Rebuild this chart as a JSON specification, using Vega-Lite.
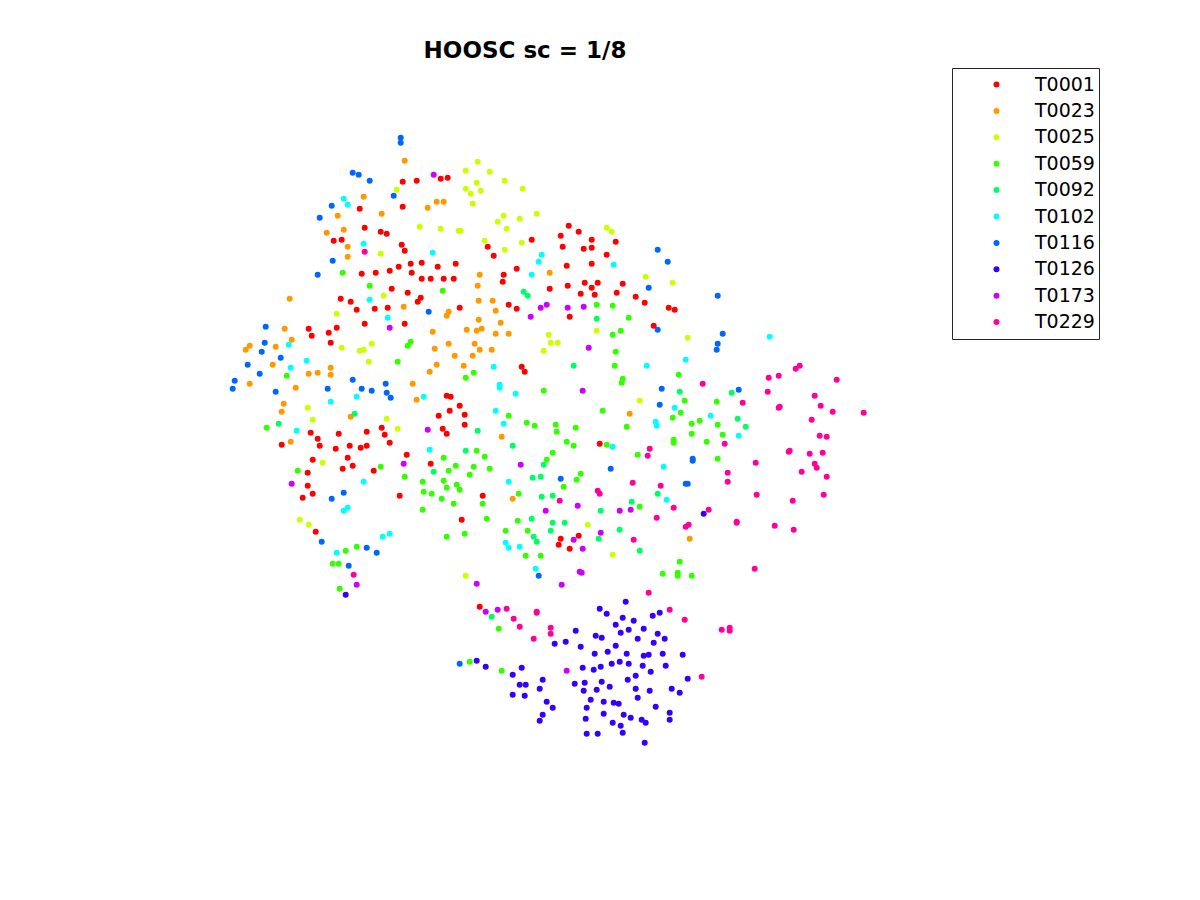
{"$schema":"https://vega.github.io/schema/vega-lite/v6.json","width":1200,"height":900,"padding":0,"autosize":{"type":"none"},"background":"white","view":{"stroke":null},
"title":{"text":"HOOSC sc = 1/8","font":"DejaVu Sans","fontSize":23,"fontWeight":"bold","color":"#000000","anchor":"middle","dx":-75,"offset":-81,"baseline":"alphabetic"},
"datasets":{"pts":[
{"t":"T0001","x":402,"y":181},{"t":"T0001","x":416,"y":180},{"t":"T0001","x":440,"y":178},{"t":"T0001","x":447,"y":177},{"t":"T0001","x":359,"y":208},{"t":"T0001","x":402,"y":206},{"t":"T0001","x":364,"y":227},{"t":"T0001","x":380,"y":231},{"t":"T0001","x":386,"y":233},{"t":"T0001","x":333,"y":240},{"t":"T0001","x":341,"y":239},{"t":"T0001","x":401,"y":244},{"t":"T0001","x":404,"y":250},{"t":"T0001","x":531,"y":239},{"t":"T0001","x":487,"y":246},{"t":"T0001","x":493,"y":255},{"t":"T0001","x":410,"y":263},{"t":"T0001","x":421,"y":262},{"t":"T0001","x":437,"y":266},{"t":"T0001","x":455,"y":263},{"t":"T0001","x":398,"y":266},{"t":"T0001","x":389,"y":270},{"t":"T0001","x":375,"y":272},{"t":"T0001","x":361,"y":273},{"t":"T0001","x":411,"y":272},{"t":"T0001","x":421,"y":278},{"t":"T0001","x":430,"y":278},{"t":"T0001","x":443,"y":278},{"t":"T0001","x":453,"y":278},{"t":"T0001","x":516,"y":268},{"t":"T0001","x":503,"y":274},{"t":"T0001","x":502,"y":281},{"t":"T0001","x":549,"y":288},{"t":"T0001","x":391,"y":288},{"t":"T0001","x":407,"y":292},{"t":"T0001","x":420,"y":297},{"t":"T0001","x":417,"y":301},{"t":"T0001","x":340,"y":298},{"t":"T0001","x":350,"y":301},{"t":"T0001","x":356,"y":309},{"t":"T0001","x":374,"y":308},{"t":"T0001","x":387,"y":307},{"t":"T0001","x":459,"y":307},{"t":"T0001","x":508,"y":304},{"t":"T0001","x":516,"y":308},{"t":"T0001","x":364,"y":323},{"t":"T0001","x":404,"y":323},{"t":"T0001","x":308,"y":328},{"t":"T0001","x":311,"y":335},{"t":"T0001","x":328,"y":332},{"t":"T0001","x":336,"y":327},{"t":"T0001","x":330,"y":342},{"t":"T0001","x":521,"y":366},{"t":"T0001","x":524,"y":371},
{"t":"T0001","x":446,"y":395},{"t":"T0001","x":450,"y":396},{"t":"T0001","x":459,"y":405},{"t":"T0001","x":449,"y":410},{"t":"T0001","x":438,"y":415},{"t":"T0001","x":464,"y":414},{"t":"T0001","x":464,"y":424},{"t":"T0001","x":442,"y":428},{"t":"T0001","x":446,"y":433},{"t":"T0001","x":310,"y":432},{"t":"T0001","x":317,"y":438},{"t":"T0001","x":319,"y":445},{"t":"T0001","x":338,"y":433},{"t":"T0001","x":366,"y":431},{"t":"T0001","x":381,"y":427},{"t":"T0001","x":384,"y":434},{"t":"T0001","x":389,"y":442},{"t":"T0001","x":281,"y":444},{"t":"T0001","x":335,"y":448},{"t":"T0001","x":349,"y":445},{"t":"T0001","x":360,"y":447},{"t":"T0001","x":366,"y":445},{"t":"T0001","x":406,"y":454},{"t":"T0001","x":312,"y":459},{"t":"T0001","x":347,"y":457},{"t":"T0001","x":352,"y":465},{"t":"T0001","x":342,"y":468},{"t":"T0001","x":373,"y":470},{"t":"T0001","x":307,"y":472},{"t":"T0001","x":430,"y":463},{"t":"T0001","x":307,"y":485},{"t":"T0001","x":312,"y":493},{"t":"T0001","x":302,"y":497},{"t":"T0001","x":399,"y":495},{"t":"T0001","x":482,"y":495},{"t":"T0001","x":461,"y":519},{"t":"T0001","x":315,"y":531},
{"t":"T0001","x":568,"y":225},{"t":"T0001","x":578,"y":231},{"t":"T0001","x":560,"y":235},{"t":"T0001","x":591,"y":239},{"t":"T0001","x":615,"y":241},{"t":"T0001","x":562,"y":246},{"t":"T0001","x":583,"y":248},{"t":"T0001","x":591,"y":247},{"t":"T0001","x":606,"y":254},{"t":"T0001","x":591,"y":263},{"t":"T0001","x":566,"y":265},{"t":"T0001","x":584,"y":282},{"t":"T0001","x":597,"y":282},{"t":"T0001","x":567,"y":285},{"t":"T0001","x":591,"y":287},{"t":"T0001","x":580,"y":293},{"t":"T0001","x":594,"y":294},{"t":"T0001","x":616,"y":292},{"t":"T0001","x":622,"y":283},{"t":"T0001","x":635,"y":296},{"t":"T0001","x":644,"y":302},{"t":"T0001","x":668,"y":307},{"t":"T0001","x":674,"y":309},{"t":"T0001","x":569,"y":316},{"t":"T0001","x":653,"y":325},{"t":"T0001","x":599,"y":443},{"t":"T0001","x":560,"y":538},{"t":"T0001","x":578,"y":535},{"t":"T0001","x":558,"y":544},{"t":"T0001","x":569,"y":548},{"t":"T0001","x":479,"y":606},
{"t":"T0023","x":404,"y":160},{"t":"T0023","x":363,"y":196},{"t":"T0023","x":436,"y":201},{"t":"T0023","x":443,"y":201},{"t":"T0023","x":427,"y":207},{"t":"T0023","x":337,"y":215},{"t":"T0023","x":381,"y":213},{"t":"T0023","x":343,"y":229},{"t":"T0023","x":326,"y":232},{"t":"T0023","x":347,"y":246},{"t":"T0023","x":347,"y":256},{"t":"T0023","x":479,"y":274},{"t":"T0023","x":477,"y":285},{"t":"T0023","x":549,"y":272},{"t":"T0023","x":289,"y":298},{"t":"T0023","x":478,"y":300},{"t":"T0023","x":492,"y":300},{"t":"T0023","x":403,"y":306},{"t":"T0023","x":495,"y":310},{"t":"T0023","x":448,"y":311},{"t":"T0023","x":446,"y":315},{"t":"T0023","x":478,"y":319},{"t":"T0023","x":500,"y":322},{"t":"T0023","x":284,"y":328},{"t":"T0023","x":466,"y":329},{"t":"T0023","x":476,"y":330},{"t":"T0023","x":481,"y":328},{"t":"T0023","x":495,"y":333},{"t":"T0023","x":508,"y":333},{"t":"T0023","x":432,"y":331},{"t":"T0023","x":291,"y":339},{"t":"T0023","x":249,"y":345},{"t":"T0023","x":245,"y":349},{"t":"T0023","x":275,"y":346},{"t":"T0023","x":448,"y":343},{"t":"T0023","x":474,"y":343},{"t":"T0023","x":434,"y":348},{"t":"T0023","x":479,"y":349},{"t":"T0023","x":491,"y":349},{"t":"T0023","x":454,"y":355},{"t":"T0023","x":472,"y":355},{"t":"T0023","x":272,"y":364},{"t":"T0023","x":330,"y":367},{"t":"T0023","x":436,"y":364},{"t":"T0023","x":463,"y":365},{"t":"T0023","x":429,"y":371},{"t":"T0023","x":330,"y":374},{"t":"T0023","x":308,"y":373},{"t":"T0023","x":317,"y":372},{"t":"T0023","x":249,"y":383},{"t":"T0023","x":295,"y":387},{"t":"T0023","x":412,"y":383},{"t":"T0023","x":416,"y":399},{"t":"T0023","x":283,"y":403},{"t":"T0023","x":281,"y":411},{"t":"T0023","x":350,"y":416},{"t":"T0023","x":290,"y":441},{"t":"T0023","x":501,"y":436},{"t":"T0023","x":512,"y":498},{"t":"T0023","x":629,"y":413},{"t":"T0023","x":689,"y":538},
{"t":"T0025","x":477,"y":161},{"t":"T0025","x":465,"y":170},{"t":"T0025","x":489,"y":171},{"t":"T0025","x":504,"y":180},{"t":"T0025","x":476,"y":182},{"t":"T0025","x":465,"y":188},{"t":"T0025","x":470,"y":193},{"t":"T0025","x":480,"y":190},{"t":"T0025","x":522,"y":188},{"t":"T0025","x":396,"y":189},{"t":"T0025","x":472,"y":203},{"t":"T0025","x":503,"y":215},{"t":"T0025","x":497,"y":221},{"t":"T0025","x":519,"y":218},{"t":"T0025","x":536,"y":213},{"t":"T0025","x":506,"y":228},{"t":"T0025","x":419,"y":226},{"t":"T0025","x":440,"y":228},{"t":"T0025","x":458,"y":230},{"t":"T0025","x":460,"y":230},{"t":"T0025","x":484,"y":240},{"t":"T0025","x":521,"y":242},{"t":"T0025","x":504,"y":249},{"t":"T0025","x":380,"y":253},{"t":"T0025","x":383,"y":295},{"t":"T0025","x":336,"y":313},{"t":"T0025","x":341,"y":347},{"t":"T0025","x":359,"y":350},{"t":"T0025","x":363,"y":349},{"t":"T0025","x":371,"y":343},{"t":"T0025","x":368,"y":361},{"t":"T0025","x":548,"y":334},{"t":"T0025","x":550,"y":342},{"t":"T0025","x":557,"y":342},{"t":"T0025","x":543,"y":350},{"t":"T0025","x":307,"y":407},{"t":"T0025","x":312,"y":419},{"t":"T0025","x":386,"y":418},{"t":"T0025","x":397,"y":428},{"t":"T0025","x":322,"y":462},{"t":"T0025","x":299,"y":519},{"t":"T0025","x":308,"y":524},{"t":"T0025","x":465,"y":575},{"t":"T0025","x":606,"y":227},{"t":"T0025","x":611,"y":231},{"t":"T0025","x":645,"y":276},{"t":"T0025","x":672,"y":282},{"t":"T0025","x":596,"y":330},{"t":"T0025","x":687,"y":337},{"t":"T0025","x":639,"y":400},{"t":"T0025","x":587,"y":524},{"t":"T0025","x":612,"y":554},
{"t":"T0059","x":342,"y":272},{"t":"T0059","x":369,"y":285},{"t":"T0059","x":442,"y":290},{"t":"T0059","x":410,"y":341},{"t":"T0059","x":407,"y":345},{"t":"T0059","x":397,"y":361},{"t":"T0059","x":286,"y":375},{"t":"T0059","x":473,"y":372},{"t":"T0059","x":465,"y":377},{"t":"T0059","x":543,"y":390},{"t":"T0059","x":266,"y":427},{"t":"T0059","x":508,"y":415},{"t":"T0059","x":526,"y":422},{"t":"T0059","x":534,"y":425},{"t":"T0059","x":443,"y":457},{"t":"T0059","x":476,"y":450},{"t":"T0059","x":484,"y":456},{"t":"T0059","x":455,"y":465},{"t":"T0059","x":448,"y":470},{"t":"T0059","x":473,"y":466},{"t":"T0059","x":489,"y":468},{"t":"T0059","x":469,"y":474},{"t":"T0059","x":546,"y":459},{"t":"T0059","x":297,"y":470},{"t":"T0059","x":380,"y":466},{"t":"T0059","x":404,"y":476},{"t":"T0059","x":422,"y":481},{"t":"T0059","x":443,"y":480},{"t":"T0059","x":446,"y":487},{"t":"T0059","x":456,"y":484},{"t":"T0059","x":459,"y":489},{"t":"T0059","x":423,"y":491},{"t":"T0059","x":431,"y":493},{"t":"T0059","x":441,"y":498},{"t":"T0059","x":453,"y":503},{"t":"T0059","x":482,"y":503},{"t":"T0059","x":422,"y":509},{"t":"T0059","x":486,"y":518},{"t":"T0059","x":518,"y":493},{"t":"T0059","x":517,"y":520},{"t":"T0059","x":505,"y":530},{"t":"T0059","x":527,"y":530},{"t":"T0059","x":446,"y":536},{"t":"T0059","x":464,"y":533},{"t":"T0059","x":525,"y":555},{"t":"T0059","x":540,"y":555},{"t":"T0059","x":356,"y":546},{"t":"T0059","x":345,"y":550},{"t":"T0059","x":332,"y":563},{"t":"T0059","x":338,"y":563},{"t":"T0059","x":339,"y":588},{"t":"T0059","x":596,"y":304},{"t":"T0059","x":612,"y":305},{"t":"T0059","x":628,"y":317},{"t":"T0059","x":620,"y":330},{"t":"T0059","x":612,"y":334},{"t":"T0059","x":615,"y":351},{"t":"T0059","x":614,"y":365},{"t":"T0059","x":622,"y":378},{"t":"T0059","x":621,"y":382},{"t":"T0059","x":678,"y":374},{"t":"T0059","x":684,"y":400},{"t":"T0059","x":716,"y":401},{"t":"T0059","x":602,"y":410},{"t":"T0059","x":680,"y":412},{"t":"T0059","x":672,"y":417},{"t":"T0059","x":699,"y":420},{"t":"T0059","x":691,"y":423},{"t":"T0059","x":717,"y":424},{"t":"T0059","x":555,"y":424},{"t":"T0059","x":556,"y":431},{"t":"T0059","x":575,"y":427},{"t":"T0059","x":626,"y":426},{"t":"T0059","x":691,"y":433},{"t":"T0059","x":722,"y":434},{"t":"T0059","x":673,"y":439},{"t":"T0059","x":673,"y":442},{"t":"T0059","x":706,"y":441},{"t":"T0059","x":566,"y":441},{"t":"T0059","x":573,"y":445},{"t":"T0059","x":552,"y":452},{"t":"T0059","x":606,"y":444},{"t":"T0059","x":637,"y":454},{"t":"T0059","x":717,"y":458},{"t":"T0059","x":580,"y":473},{"t":"T0059","x":576,"y":479},{"t":"T0059","x":563,"y":486},{"t":"T0059","x":639,"y":506},{"t":"T0059","x":679,"y":561},{"t":"T0059","x":662,"y":573},{"t":"T0059","x":677,"y":572},{"t":"T0059","x":677,"y":575},{"t":"T0059","x":691,"y":575},{"t":"T0059","x":498,"y":628},{"t":"T0059","x":469,"y":661},{"t":"T0059","x":501,"y":670},
{"t":"T0092","x":523,"y":291},{"t":"T0092","x":527,"y":295},{"t":"T0092","x":354,"y":413},{"t":"T0092","x":278,"y":423},{"t":"T0092","x":477,"y":430},{"t":"T0092","x":512,"y":445},{"t":"T0092","x":465,"y":450},{"t":"T0092","x":433,"y":471},{"t":"T0092","x":532,"y":477},{"t":"T0092","x":540,"y":476},{"t":"T0092","x":543,"y":464},{"t":"T0092","x":541,"y":496},{"t":"T0092","x":552,"y":495},{"t":"T0092","x":657,"y":493},{"t":"T0092","x":631,"y":501},{"t":"T0092","x":600,"y":510},{"t":"T0092","x":531,"y":518},{"t":"T0092","x":552,"y":522},{"t":"T0092","x":564,"y":522},{"t":"T0092","x":550,"y":530},{"t":"T0092","x":533,"y":536},{"t":"T0092","x":536,"y":541},{"t":"T0092","x":619,"y":529},{"t":"T0092","x":598,"y":538},{"t":"T0092","x":639,"y":550},{"t":"T0092","x":491,"y":616},{"t":"T0092","x":596,"y":318},{"t":"T0092","x":573,"y":365},{"t":"T0092","x":679,"y":391},{"t":"T0092","x":731,"y":392},{"t":"T0092","x":737,"y":418},{"t":"T0092","x":745,"y":426},
{"t":"T0102","x":343,"y":198},{"t":"T0102","x":347,"y":204},{"t":"T0102","x":363,"y":243},{"t":"T0102","x":432,"y":252},{"t":"T0102","x":541,"y":254},{"t":"T0102","x":538,"y":261},{"t":"T0102","x":531,"y":274},{"t":"T0102","x":369,"y":299},{"t":"T0102","x":387,"y":317},{"t":"T0102","x":288,"y":344},{"t":"T0102","x":306,"y":360},{"t":"T0102","x":290,"y":367},{"t":"T0102","x":493,"y":366},{"t":"T0102","x":423,"y":396},{"t":"T0102","x":356,"y":396},{"t":"T0102","x":330,"y":401},{"t":"T0102","x":499,"y":384},{"t":"T0102","x":499,"y":387},{"t":"T0102","x":515,"y":393},{"t":"T0102","x":495,"y":410},{"t":"T0102","x":503,"y":423},{"t":"T0102","x":296,"y":430},{"t":"T0102","x":429,"y":449},{"t":"T0102","x":363,"y":481},{"t":"T0102","x":347,"y":507},{"t":"T0102","x":343,"y":510},{"t":"T0102","x":389,"y":533},{"t":"T0102","x":382,"y":536},{"t":"T0102","x":336,"y":552},{"t":"T0102","x":505,"y":542},{"t":"T0102","x":508,"y":547},{"t":"T0102","x":519,"y":546},{"t":"T0102","x":535,"y":568},{"t":"T0102","x":508,"y":481},{"t":"T0102","x":613,"y":264},{"t":"T0102","x":646,"y":365},{"t":"T0102","x":685,"y":359},{"t":"T0102","x":769,"y":336},{"t":"T0102","x":674,"y":407},{"t":"T0102","x":710,"y":415},{"t":"T0102","x":655,"y":421},{"t":"T0102","x":656,"y":425},{"t":"T0102","x":738,"y":435},{"t":"T0102","x":612,"y":446},{"t":"T0102","x":663,"y":466},{"t":"T0102","x":666,"y":499},
{"t":"T0116","x":400,"y":137},{"t":"T0116","x":400,"y":142},{"t":"T0116","x":352,"y":172},{"t":"T0116","x":358,"y":174},{"t":"T0116","x":369,"y":180},{"t":"T0116","x":393,"y":195},{"t":"T0116","x":331,"y":205},{"t":"T0116","x":319,"y":217},{"t":"T0116","x":332,"y":260},{"t":"T0116","x":317,"y":274},{"t":"T0116","x":428,"y":311},{"t":"T0116","x":265,"y":326},{"t":"T0116","x":264,"y":342},{"t":"T0116","x":261,"y":351},{"t":"T0116","x":280,"y":357},{"t":"T0116","x":247,"y":364},{"t":"T0116","x":259,"y":373},{"t":"T0116","x":234,"y":380},{"t":"T0116","x":232,"y":388},{"t":"T0116","x":275,"y":391},{"t":"T0116","x":327,"y":388},{"t":"T0116","x":352,"y":379},{"t":"T0116","x":361,"y":388},{"t":"T0116","x":371,"y":390},{"t":"T0116","x":385,"y":383},{"t":"T0116","x":386,"y":392},{"t":"T0116","x":390,"y":397},{"t":"T0116","x":343,"y":492},{"t":"T0116","x":331,"y":498},{"t":"T0116","x":321,"y":541},{"t":"T0116","x":366,"y":547},{"t":"T0116","x":376,"y":552},{"t":"T0116","x":348,"y":565},{"t":"T0116","x":538,"y":575},{"t":"T0116","x":657,"y":249},{"t":"T0116","x":667,"y":261},{"t":"T0116","x":648,"y":287},{"t":"T0116","x":717,"y":295},{"t":"T0116","x":657,"y":329},{"t":"T0116","x":722,"y":333},{"t":"T0116","x":717,"y":343},{"t":"T0116","x":716,"y":349},{"t":"T0116","x":661,"y":388},{"t":"T0116","x":659,"y":404},{"t":"T0116","x":738,"y":389},{"t":"T0116","x":692,"y":458},{"t":"T0116","x":692,"y":460},{"t":"T0116","x":610,"y":468},{"t":"T0116","x":560,"y":478},{"t":"T0116","x":685,"y":483},{"t":"T0116","x":687,"y":483},{"t":"T0116","x":459,"y":663},
{"t":"T0126","x":625,"y":601},{"t":"T0126","x":599,"y":608},{"t":"T0126","x":606,"y":613},{"t":"T0126","x":659,"y":612},{"t":"T0126","x":652,"y":615},{"t":"T0126","x":622,"y":617},{"t":"T0126","x":633,"y":620},{"t":"T0126","x":615,"y":624},{"t":"T0126","x":575,"y":630},{"t":"T0126","x":628,"y":629},{"t":"T0126","x":620,"y":632},{"t":"T0126","x":643,"y":628},{"t":"T0126","x":657,"y":633},{"t":"T0126","x":595,"y":635},{"t":"T0126","x":601,"y":637},{"t":"T0126","x":637,"y":638},{"t":"T0126","x":664,"y":638},{"t":"T0126","x":653,"y":642},{"t":"T0126","x":554,"y":643},{"t":"T0126","x":565,"y":641},{"t":"T0126","x":580,"y":646},{"t":"T0126","x":615,"y":645},{"t":"T0126","x":607,"y":651},{"t":"T0126","x":594,"y":653},{"t":"T0126","x":626,"y":653},{"t":"T0126","x":643,"y":655},{"t":"T0126","x":648,"y":654},{"t":"T0126","x":662,"y":653},{"t":"T0126","x":682,"y":654},{"t":"T0126","x":619,"y":661},{"t":"T0126","x":611,"y":663},{"t":"T0126","x":628,"y":663},{"t":"T0126","x":642,"y":665},{"t":"T0126","x":665,"y":665},{"t":"T0126","x":600,"y":666},{"t":"T0126","x":593,"y":669},{"t":"T0126","x":582,"y":667},{"t":"T0126","x":650,"y":671},{"t":"T0126","x":635,"y":675},{"t":"T0126","x":476,"y":660},{"t":"T0126","x":485,"y":666},{"t":"T0126","x":521,"y":667},{"t":"T0126","x":512,"y":674},{"t":"T0126","x":542,"y":679},{"t":"T0126","x":519,"y":684},{"t":"T0126","x":525,"y":684},{"t":"T0126","x":539,"y":688},{"t":"T0126","x":512,"y":694},{"t":"T0126","x":524,"y":695},{"t":"T0126","x":574,"y":683},{"t":"T0126","x":584,"y":682},{"t":"T0126","x":601,"y":681},{"t":"T0126","x":627,"y":679},{"t":"T0126","x":687,"y":678},{"t":"T0126","x":609,"y":686},{"t":"T0126","x":583,"y":690},{"t":"T0126","x":596,"y":689},{"t":"T0126","x":635,"y":688},{"t":"T0126","x":649,"y":690},{"t":"T0126","x":671,"y":688},{"t":"T0126","x":679,"y":692},{"t":"T0126","x":637,"y":697},{"t":"T0126","x":590,"y":699},{"t":"T0126","x":603,"y":701},{"t":"T0126","x":613,"y":702},{"t":"T0126","x":618,"y":703},{"t":"T0126","x":546,"y":701},{"t":"T0126","x":552,"y":707},{"t":"T0126","x":586,"y":707},{"t":"T0126","x":655,"y":706},{"t":"T0126","x":542,"y":714},{"t":"T0126","x":539,"y":720},{"t":"T0126","x":603,"y":713},{"t":"T0126","x":623,"y":714},{"t":"T0126","x":630,"y":717},{"t":"T0126","x":669,"y":712},{"t":"T0126","x":669,"y":719},{"t":"T0126","x":585,"y":718},{"t":"T0126","x":641,"y":719},{"t":"T0126","x":645,"y":722},{"t":"T0126","x":612,"y":722},{"t":"T0126","x":620,"y":725},{"t":"T0126","x":622,"y":732},{"t":"T0126","x":586,"y":733},{"t":"T0126","x":597,"y":733},{"t":"T0126","x":644,"y":742},{"t":"T0126","x":703,"y":513},{"t":"T0126","x":345,"y":594},
{"t":"T0173","x":433,"y":174},{"t":"T0173","x":546,"y":304},{"t":"T0173","x":540,"y":307},{"t":"T0173","x":530,"y":316},{"t":"T0173","x":389,"y":327},{"t":"T0173","x":427,"y":429},{"t":"T0173","x":403,"y":463},{"t":"T0173","x":291,"y":483},{"t":"T0173","x":520,"y":464},{"t":"T0173","x":545,"y":510},{"t":"T0173","x":476,"y":583},{"t":"T0173","x":356,"y":584},{"t":"T0173","x":567,"y":307},{"t":"T0173","x":583,"y":306},{"t":"T0173","x":588,"y":347},{"t":"T0173","x":582,"y":390},{"t":"T0173","x":577,"y":505},{"t":"T0173","x":619,"y":510},{"t":"T0173","x":630,"y":509},{"t":"T0173","x":600,"y":532},{"t":"T0173","x":573,"y":539},{"t":"T0173","x":582,"y":548},{"t":"T0173","x":579,"y":571},{"t":"T0173","x":581,"y":572},{"t":"T0173","x":561,"y":584},{"t":"T0173","x":485,"y":611},{"t":"T0173","x":497,"y":609},{"t":"T0173","x":566,"y":670},
{"t":"T0229","x":364,"y":251},{"t":"T0229","x":353,"y":574},{"t":"T0229","x":702,"y":383},{"t":"T0229","x":768,"y":377},{"t":"T0229","x":778,"y":375},{"t":"T0229","x":795,"y":368},{"t":"T0229","x":799,"y":365},{"t":"T0229","x":836,"y":379},{"t":"T0229","x":767,"y":391},{"t":"T0229","x":814,"y":395},{"t":"T0229","x":742,"y":402},{"t":"T0229","x":778,"y":407},{"t":"T0229","x":779,"y":406},{"t":"T0229","x":820,"y":405},{"t":"T0229","x":832,"y":411},{"t":"T0229","x":863,"y":412},{"t":"T0229","x":811,"y":419},{"t":"T0229","x":819,"y":435},{"t":"T0229","x":826,"y":436},{"t":"T0229","x":724,"y":443},{"t":"T0229","x":649,"y":448},{"t":"T0229","x":647,"y":455},{"t":"T0229","x":755,"y":462},{"t":"T0229","x":727,"y":472},{"t":"T0229","x":727,"y":481},{"t":"T0229","x":632,"y":482},{"t":"T0229","x":660,"y":485},{"t":"T0229","x":756,"y":494},{"t":"T0229","x":597,"y":490},{"t":"T0229","x":599,"y":493},{"t":"T0229","x":559,"y":500},{"t":"T0229","x":673,"y":507},{"t":"T0229","x":708,"y":509},{"t":"T0229","x":656,"y":517},{"t":"T0229","x":736,"y":521},{"t":"T0229","x":736,"y":522},{"t":"T0229","x":688,"y":524},{"t":"T0229","x":685,"y":526},{"t":"T0229","x":633,"y":539},{"t":"T0229","x":754,"y":568},{"t":"T0229","x":648,"y":592},{"t":"T0229","x":789,"y":450},{"t":"T0229","x":788,"y":451},{"t":"T0229","x":809,"y":453},{"t":"T0229","x":822,"y":452},{"t":"T0229","x":814,"y":463},{"t":"T0229","x":816,"y":467},{"t":"T0229","x":801,"y":471},{"t":"T0229","x":826,"y":476},{"t":"T0229","x":823,"y":494},{"t":"T0229","x":792,"y":500},{"t":"T0229","x":774,"y":525},{"t":"T0229","x":793,"y":529},{"t":"T0229","x":669,"y":609},{"t":"T0229","x":684,"y":619},{"t":"T0229","x":721,"y":629},{"t":"T0229","x":729,"y":627},{"t":"T0229","x":729,"y":630},{"t":"T0229","x":701,"y":676},{"t":"T0229","x":506,"y":608},{"t":"T0229","x":513,"y":618},{"t":"T0229","x":519,"y":626},{"t":"T0229","x":536,"y":611},{"t":"T0229","x":536,"y":612},{"t":"T0229","x":550,"y":627},{"t":"T0229","x":550,"y":633},{"t":"T0229","x":533,"y":638}
]},
"data":{"name":"pts"},
"mark":{"type":"point","filled":true,"opacity":1,"size":36,"strokeWidth":0},
"encoding":{
"x":{"field":"x","type":"quantitative","scale":{"domain":[-0.7,1199.3],"nice":false,"zero":false},"axis":null},
"y":{"field":"y","type":"quantitative","scale":{"domain":[899.3,-0.7],"nice":false,"zero":false},"axis":null},
"color":{"field":"t","type":"nominal","scale":{"domain":["T0001","T0023","T0025","T0059","T0092","T0102","T0116","T0126","T0173","T0229"],"range":["#ff0000","#ff9900","#ccff00","#33ff00","#00ff66","#00ffff","#0066ff","#3300ff","#cc00ff","#ff0099"]},
"legend":{"title":null,"orient":"none","legendX":952,"legendY":68,"fillColor":"#ffffff","strokeColor":"#262626","padding":4,"symbolType":"circle","symbolSize":36,"symbolOffset":31,"symbolOpacity":1,"labelFont":"DejaVu Sans","labelFontSize":19,"labelColor":"#000000","labelOffset":29,"rowPadding":1.4,"clipHeight":25,"labelLimit":200}}
}}
